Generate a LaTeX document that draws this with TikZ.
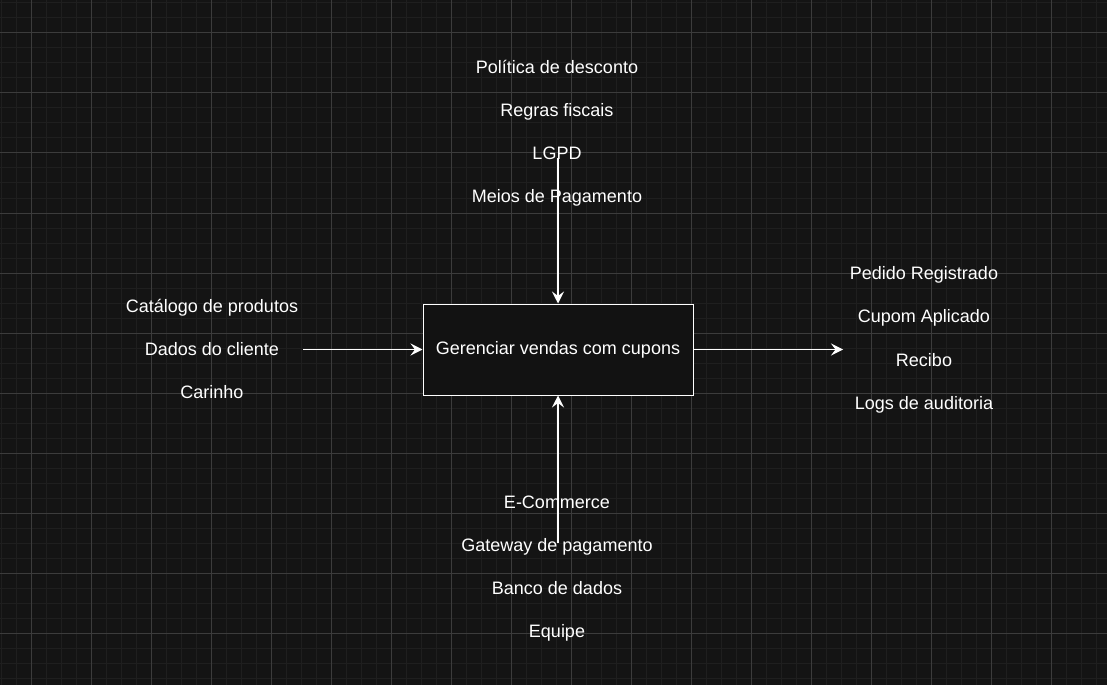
\documentclass[tikz,border=0pt]{standalone}
\usepackage{fontspec}
\setmainfont{Liberation Sans}
\usetikzlibrary{arrows.meta}
\definecolor{bgc}{HTML}{141414}
\definecolor{boxfill}{HTML}{121212}
\definecolor{gminor}{HTML}{1F1F1F}
\definecolor{gmajor}{HTML}{3C3C3C}
\tikzset{
  lbl/.style={anchor=base, text=white, inner sep=0pt, font=\fontsize{18bp}{22bp}\selectfont},
  procbox/.style={draw=white, line width=1bp, fill=boxfill, minimum width=270bp, minimum height=91bp, inner sep=0pt, text=white, font=\fontsize{18bp}{22bp}\selectfont},
  conn/.style={draw=white, line width=1.2bp, -{Stealth[length=12bp, width=12bp, inset=4.5bp]}},
}
\begin{document}
\begin{tikzpicture}[x=1bp, y=-1bp]
\fill[bgc] (0,0) rectangle (1107,685);
\useasboundingbox (0,0) rectangle (1107,685);
% minor grid
\foreach \k in {0,...,73} { \draw[gminor, line width=1bp] ({1+15*\k},0) -- ({1+15*\k},685); }
\foreach \k in {0,...,45} { \draw[gminor, line width=1bp] (0,{3+15*\k}) -- (1107,{3+15*\k}); }
% major grid
\foreach \k in {0,...,18} { \draw[gmajor, line width=1bp] ({31+60*\k},0) -- ({31+60*\k},685); }
\foreach \k in {0,...,11} { \draw[gmajor, line width=1bp] (0,{33+60*\k}) -- (1107,{33+60*\k}); }

% process box
\node[procbox] (box) at (558,349.5) {Gerenciar vendas com cupons};

% top labels (controls)
\node[lbl] (c1) at (557,73.3) {Política de desconto};
\node[lbl] (c2) at (557,116.5) {Regras fiscais};
\node[lbl] (c3) at (557,159.5) {LGPD};
\node[lbl] (c4) at (557,202.7) {Meios de Pagamento};

% bottom labels (mechanisms)
\node[lbl] (m1) at (557,508.3) {E-Commerce};
\node[lbl] (m2) at (557,551.5) {Gateway de pagamento};
\node[lbl] (m3) at (557,594.5) {Banco de dados};
\node[lbl] (m4) at (557,637.5) {Equipe};

% left labels (inputs)
\node[lbl] (i1) at (212,312.7) {Catálogo de produtos};
\node[lbl] (i2) at (212,355.5) {Dados do cliente};
\node[lbl] (i3) at (212,398.5) {Carinho};

% right labels (outputs)
\node[lbl] (o1) at (924,279.3) {Pedido Registrado};
\node[lbl] (o2) at (924,322.7) {Cupom Aplicado};
\node[lbl] (o3) at (924,366) {Recibo};
\node[lbl] (o4) at (924,409.3) {Logs de auditoria};

% connector ends
\coordinate (topend) at (558,158);
\coordinate (botend) at (558,543);
\coordinate (leftend) at (303,349.5);
\coordinate (rightend) at (843,349.5);

\draw[conn] (topend) -- (box.north);
\draw[conn] (botend) -- (box.south);
\draw[conn] (leftend) -- (box.west);
\draw[conn] (box.east) -- (rightend);
\end{tikzpicture}
\end{document}
